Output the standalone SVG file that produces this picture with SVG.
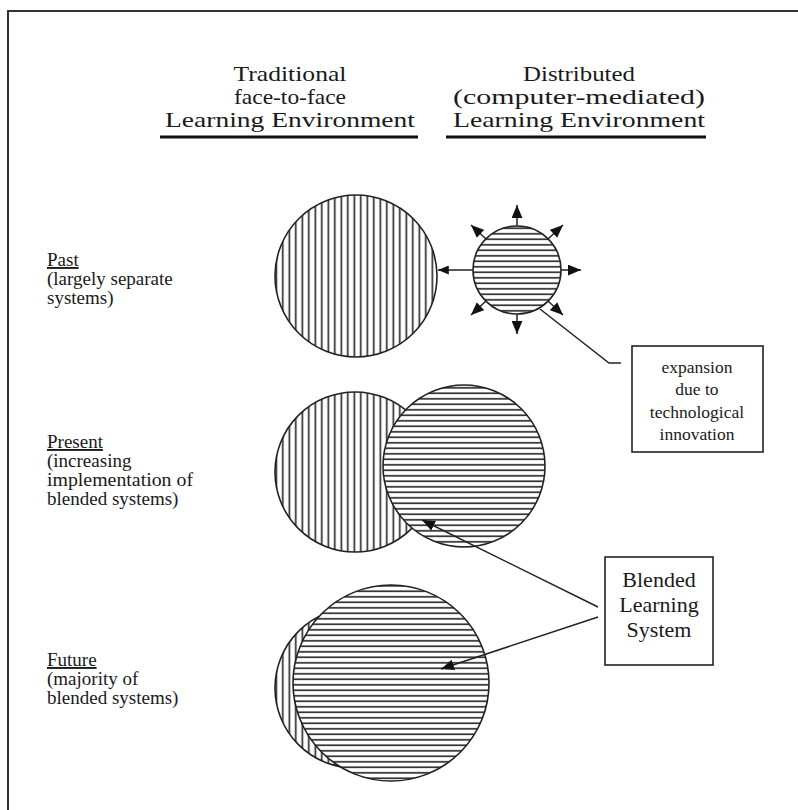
<svg xmlns="http://www.w3.org/2000/svg" width="798" height="810" viewBox="0 0 798 810">
<defs>
<style>
.hd{font-family:"Liberation Serif","Times New Roman",serif;font-size:22px;fill:#1a1a1a;text-anchor:middle}
.lb{font-family:"Liberation Serif","Times New Roman",serif;font-size:19px;fill:#1a1a1a}
.bx{font-family:"Liberation Serif","Times New Roman",serif;fill:#1a1a1a;text-anchor:middle}
.circ{stroke:#222;stroke-width:1.6}
.ln{stroke:#222;stroke-width:1.5;fill:none}
.ul{stroke:#111;stroke-width:3}
.box{fill:#fff;stroke:#222;stroke-width:1.6}
</style>
<pattern id="vs" patternUnits="userSpaceOnUse" width="6.5" height="6">
<rect width="6.5" height="6" fill="#fff"/>
<rect x="2.5" y="0" width="1.6" height="6" fill="#222"/>
</pattern>
<pattern id="hs" patternUnits="userSpaceOnUse" width="6" height="5.5">
<rect width="6" height="5.5" fill="#fff"/>
<rect x="0" y="2" width="6" height="1.6" fill="#222"/>
</pattern>
<marker id="ah" viewBox="0 0 12 10" refX="12" refY="5" markerWidth="13" markerHeight="11" markerUnits="userSpaceOnUse" orient="auto">
<path d="M0,0 L12,5 L0,10 z" fill="#111"/>
</marker>
<marker id="ahs" viewBox="0 0 12 10" refX="12" refY="5" markerWidth="11" markerHeight="9" markerUnits="userSpaceOnUse" orient="auto">
<path d="M0,0 L12,5 L0,10 z" fill="#111"/>
</marker>
</defs>
<rect width="798" height="810" fill="#fff"/>
<path d="M8,810 V11 H798" fill="none" stroke="#333" stroke-width="2"/>

<g id="header-traditional">
<text class="hd" x="290" y="81" textLength="113" lengthAdjust="spacingAndGlyphs">Traditional</text>
<text class="hd" x="290" y="104" textLength="112" lengthAdjust="spacingAndGlyphs">face-to-face</text>
<text class="hd" x="290" y="127" textLength="250" lengthAdjust="spacingAndGlyphs">Learning Environment</text>
<line class="ul" x1="160" y1="137" x2="418" y2="137"/>
</g>
<g id="header-distributed">
<text class="hd" x="579" y="81" textLength="112" lengthAdjust="spacingAndGlyphs">Distributed</text>
<text class="hd" x="579" y="104" textLength="252" lengthAdjust="spacingAndGlyphs">(computer-mediated)</text>
<text class="hd" x="579" y="127" textLength="252" lengthAdjust="spacingAndGlyphs">Learning Environment</text>
<line class="ul" x1="446" y1="137" x2="706" y2="137"/>
</g>

<g id="label-past">
<text class="lb" x="47" y="266" text-decoration="underline">Past</text>
<text class="lb" x="47" y="285">(largely separate</text>
<text class="lb" x="47" y="304">systems)</text>
</g>
<g id="label-present">
<text class="lb" x="47" y="448" text-decoration="underline">Present</text>
<text class="lb" x="47" y="467">(increasing</text>
<text class="lb" x="47" y="486" textLength="146" lengthAdjust="spacingAndGlyphs">implementation of</text>
<text class="lb" x="47" y="505">blended systems)</text>
</g>
<g id="label-future">
<text class="lb" x="47" y="666" text-decoration="underline">Future</text>
<text class="lb" x="47" y="685">(majority of</text>
<text class="lb" x="47" y="704">blended systems)</text>
</g>

<g id="past-traditional">
<circle class="circ" cx="356" cy="276" r="81" fill="url(#vs)"/>
</g>
<g id="past-distributed">
<circle class="circ" cx="517" cy="270" r="44" fill="url(#hs)"/>
</g>

<g id="present-traditional">
<circle class="circ" cx="355" cy="472" r="80" fill="url(#vs)"/>
</g>
<g id="present-distributed">
<circle class="circ" cx="464" cy="466" r="81" fill="url(#hs)"/>
</g>

<g id="future-traditional">
<circle class="circ" cx="355" cy="688" r="80" fill="url(#vs)"/>
</g>
<g id="future-distributed">
<circle class="circ" cx="391" cy="683" r="98" fill="url(#hs)"/>
</g>

<g id="box-expansion">
<rect class="box" x="632" y="346" width="131" height="106"/>
<text class="bx" font-size="17.5" x="697" y="373">expansion</text>
<text class="bx" font-size="17.5" x="697" y="395">due to</text>
<text class="bx" font-size="17.5" x="697" y="418">technological</text>
<text class="bx" font-size="17.5" x="697" y="440">innovation</text>
</g>
<g id="box-blended">
<rect class="box" x="605" y="557" width="108" height="108"/>
<text class="bx" font-size="22" x="659" y="587">Blended</text>
<text class="bx" font-size="22" x="659" y="612">Learning</text>
<text class="bx" font-size="22" x="659" y="637">System</text>
</g>

<g id="connectors">
<line class="ln" x1="473" y1="270" x2="438" y2="270" marker-end="url(#ahs)"/>
<line class="ln" x1="517" y1="226" x2="517" y2="205" marker-end="url(#ah)"/>
<line class="ln" x1="517" y1="314" x2="517" y2="334" marker-end="url(#ah)"/>
<line class="ln" x1="561" y1="270" x2="581" y2="270" marker-end="url(#ah)"/>
<line class="ln" x1="548" y1="239" x2="563" y2="225" marker-end="url(#ah)"/>
<line class="ln" x1="548" y1="301" x2="563" y2="315" marker-end="url(#ah)"/>
<line class="ln" x1="486" y1="239" x2="471" y2="225" marker-end="url(#ah)"/>
<line class="ln" x1="486" y1="301" x2="471" y2="315" marker-end="url(#ah)"/>
<polyline class="ln" points="540,309 609,363 621,363"/>
<line class="ln" x1="598" y1="607" x2="422" y2="520" marker-end="url(#ah)"/>
<line class="ln" x1="598" y1="617" x2="441" y2="669" marker-end="url(#ah)"/>
</g>
</svg>
